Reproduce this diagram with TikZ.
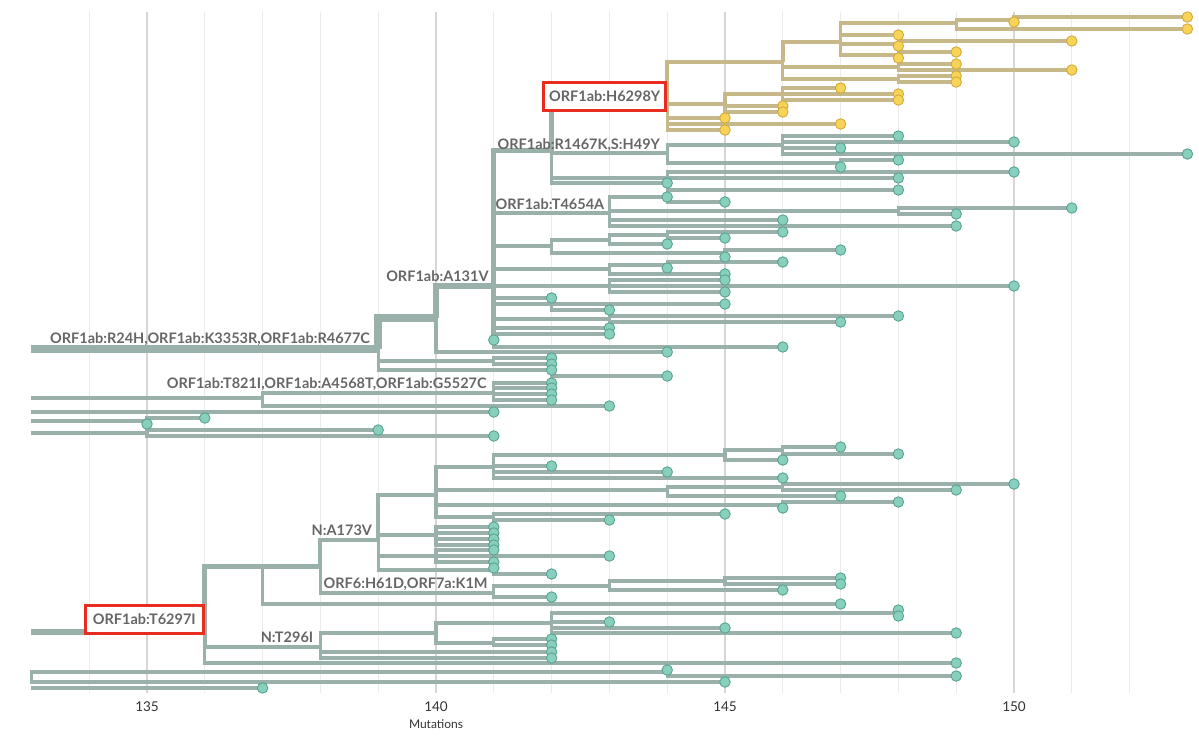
\documentclass[tikz,border=0pt]{standalone}
\usepackage{fontspec}
\newfontfamily\lato{Lato}
\definecolor{brgray}{RGB}{154,176,170}
\definecolor{tipfill}{RGB}{135,208,190}
\definecolor{tipedge}{RGB}{90,162,144}
\definecolor{brtan}{RGB}{198,184,136}
\definecolor{ytipfill}{RGB}{247,212,88}
\definecolor{ytipedge}{RGB}{210,170,60}
\definecolor{labgray}{RGB}{102,102,102}
\definecolor{boxred}{RGB}{232,44,32}
\pgfdeclarelayer{tips}
\pgfsetlayers{main,tips}
\tikzset{
  br/.style={draw=brgray, line width=3.1pt},
  br2/.style={line width=4pt},
  br3/.style={line width=5pt},
  br4/.style={line width=6.2pt},
  br5/.style={line width=8.5pt},
  tip/.style={circle, draw=tipedge, fill=tipfill, line width=0.9pt,
    minimum size=10.5pt, inner sep=0pt},
  gridmin/.style={draw=black!8, line width=1pt},
  gridmaj/.style={draw=black!16, line width=1.6pt},
  mut/.style={font=\lato\bfseries\fontsize{14.5}{17}\selectfont, text=labgray,
    inner sep=0pt, anchor=base east},
  hit/.style={mut, anchor=center, draw=boxred, line width=3pt, fill=white,
    minimum height=28pt},
  tick/.style={font=\lato\fontsize{13.5}{15}\selectfont, text=black!80},
  axis/.style={font=\lato\fontsize{12}{14}\selectfont, text=black!80}
}
% branch to an inner node, and branch to a tip
\newcommand\fork[4][]{\draw[br,#1] (#3) |- (#4) coordinate (#2);}
\newcounter{tipno}
\newcommand\leaf[3][]{\stepcounter{tipno}%
  \begin{pgfonlayer}{tips}\node[tip] (t\thetipno) at (#3) {};\end{pgfonlayer}%
  \draw[br,#1] (#2) |- (t\thetipno.center);}

\begin{document}
\begin{tikzpicture}[x=57.8pt, y=-1pt, shift={(-133,0)}]
\useasboundingbox (132.4567,0) rectangle (153.2007,737);

% axis
\foreach \m in {134,...,152}
  \draw[gridmin] (\m,12) -- (\m,693);
\foreach \m in {135,140,145,150} {
  \draw[gridmaj] (\m,12) -- (\m,693);
  \node[tick] (tick\m) at (\m,707) {\m};
}
\node[axis] (xlab) at (140,724) {Mutations};

% upper clade
\coordinate (rA) at (133,349);
\fork[br5]{n139}{rA}{139,349}
\fork[br5]{n140}{n139}{140,318}
\fork[br4]{nA}{n140}{141,286}
\leaf{n140}{144,352}
\fork{n141}{n139}{141,361}
\leaf{n141}{142,358} \leaf{n141}{142,364}
\fork{n142}{n139}{142,370}
\leaf{n142}{142,370} \leaf{n142}{144,376}

\fork[br3]{nB}{nA}{142,150}
\fork[br3]{yR}{nB}{144,104}
\fork[br2]{nR}{nB}{144,153}
\fork{nR1}{nR}{146,145}
\leaf{nR1}{148,136} \leaf{nR1}{150,142} \leaf{nR1}{147,148} \leaf{nR1}{153,154}
\fork{nR2}{nR}{147,163}
\leaf{nR2}{148,160} \leaf{nR2}{147,167}
\leaf{nB}{148,178}
\fork{nB2}{nB}{144,183}
\leaf{nB2}{150,172} \leaf{nB2}{144,183} \leaf{nB2}{148,190}

\fork[br2]{nT}{nA}{143,213}
\fork{nT1}{nT}{144,197}
\leaf{nT1}{144,197} \leaf{nT1}{145,202}
\fork{nT2}{nT}{148,211}
\leaf{nT2}{151,208} \leaf{nT2}{149,214}
\leaf{nT}{146,220} \leaf{nT}{149,226}

\fork{nC}{nA}{142,246}
\fork{nC1}{nC}{143,240}
\fork{nC11}{nC1}{144,235}
\leaf{nC11}{146,232} \leaf{nC11}{145,238}
\leaf{nC1}{144,244}
\fork{nC2}{nC}{145,253}
\leaf{nC2}{147,250} \leaf{nC2}{145,257}

\fork{nD}{nA}{143,269}
\fork{nD1}{nD}{144,265}
\leaf{nD1}{146,262} \leaf{nD1}{144,268}
\leaf{nD}{145,274}

\fork{nE}{nA}{143,286}
\leaf{nE}{145,280} \leaf{nE}{150,286} \leaf{nE}{145,292}
\fork{nF}{nA}{142,298}
\leaf{nF}{142,298} \leaf{nF}{143,310}
\leaf{nA}{145,304}
\fork{nG}{nA}{143,319}
\leaf{nG}{148,316} \leaf{nG}{147,322}
\leaf{nA}{143,328} \leaf{nA}{143,334}
\leaf[br3]{nA}{141,340} \leaf{nA}{146,347}

% yellow clade
\begin{scope}[br/.style={draw=brtan, line width=3.1pt},
  tip/.style={circle, draw=ytipedge, fill=ytipfill, line width=0.9pt,
    minimum size=10.5pt, inner sep=0pt}]
\fork[br2]{yA}{yR}{146,62}
\fork[br2]{yA1}{yA}{147,42}
\fork{yA11}{yA1}{149,23}
\fork{yA111}{yA11}{150,20}
\leaf{yA111}{153,17} \leaf{yA111}{150,22}
\leaf{yA11}{153,29}
\leaf{yA1}{148,35}
\fork{yA12}{yA1}{148,44}
\leaf{yA12}{151,41} \leaf{yA12}{148,46}
\fork{yA13}{yA1}{148,55}
\leaf{yA13}{149,52} \leaf{yA13}{148,58}
\fork{yA2}{yA}{148,67}
\leaf{yA2}{149,64} \leaf{yA2}{151,70}
\fork{yA3}{yA}{148,79}
\leaf{yA3}{149,76} \leaf{yA3}{149,82}
\fork{yB}{yR}{145,104}
\fork{yB1}{yB}{146,94}
\leaf{yB1}{147,88} \leaf{yB1}{148,94} \leaf{yB1}{148,100}
\leaf{yB}{146,106} \leaf{yB}{146,112}
\leaf{yR}{145,118} \leaf{yR}{147,124} \leaf{yR}{145,130}
\end{scope}

% middle left
\coordinate (rB) at (133,398);
\fork{nH}{rB}{137,398}
\fork{nH1}{nH}{141,393}
\leaf{nH1}{142,383} \leaf{nH1}{142,388} \leaf{nH1}{142,394} \leaf{nH1}{142,400}
\leaf{nH}{143,406}
\coordinate (rC) at (133,412);
\leaf{rC}{141,412}
\coordinate (rD) at (133,421);
\fork{nI}{rD}{135,421}
\leaf{nI}{136,418} \leaf{nI}{135,424}
\coordinate (rE) at (133,433);
\fork{nJ}{rE}{135,433}
\leaf{nJ}{139,430} \leaf{nJ}{141,436}

% lower clade
\coordinate (rF) at (133,632);
\fork[br4]{n136}{rF}{136,632}
\fork[br3]{n137}{n136}{137,566}
\fork[br3]{n138}{n137}{138,566}
\fork[br2]{n139b}{n138}{139,540}
\fork[br2]{nK}{n139b}{140,495}
\fork{nK1}{nK}{141,467}
\fork{nK11}{nK1}{145,455}
\fork{nK111}{nK11}{146,450}
\leaf{nK111}{147,447} \leaf{nK111}{148,454}
\leaf{nK11}{146,460}
\leaf{nK1}{142,466} \leaf{nK1}{144,472} \leaf{nK1}{146,478}
\fork{nK2}{nK}{144,490}
\fork{nK21}{nK2}{146,487}
\leaf{nK21}{150,484} \leaf{nK21}{149,490}
\leaf{nK2}{147,496}
\fork{nK3}{nK}{146,505}
\leaf{nK3}{148,502} \leaf{nK3}{146,508}
\fork{nK4}{nK}{141,517}
\leaf{nK4}{145,514} \leaf{nK4}{143,520}
\fork{nL}{n139b}{140,535}
\leaf{nL}{141,527} \leaf{nL}{141,533} \leaf{nL}{141,539} \leaf{nL}{141,545}
\fork{nM}{n139b}{140,556}
\leaf{nM}{141,550} \leaf{nM}{143,556} \leaf{nM}{141,562}
\fork{nN}{n139b}{141,570}
\leaf{nN}{141,568} \leaf{nN}{142,574}
\fork{nO}{n138}{141,593}
\fork{nO1}{nO}{143,586}
\fork{nO11}{nO1}{145,581}
\leaf{nO11}{147,578} \leaf{nO11}{147,584}
\leaf{nO1}{146,590}
\leaf{nO}{142,597}
\leaf{n137}{147,604}

\fork[br2]{n138b}{n136}{138,647}
\fork{nP}{n138b}{140,633}
\fork{nP1}{nP}{142,623}
\fork{nP11}{nP1}{148,613}
\leaf{nP11}{148,610} \leaf{nP11}{148,616}
\leaf{nP1}{143,622} \leaf{nP1}{145,628} \leaf{nP1}{149,633}
\fork{nP2}{nP}{141,643}
\leaf{nP2}{142,639} \leaf{nP2}{142,645}
\leaf{n138b}{142,652} \leaf{n138b}{142,658}
\leaf{n136}{149,663}

% bottom
\coordinate (nQ) at (133,677);
\fork{nQ1}{nQ}{144,672}
\leaf{nQ1}{144,670} \leaf{nQ1}{149,676}
\leaf{nQ}{145,682}
\coordinate (rH) at (133,688);
\leaf{rH}{137,688}

% mutations on branches
\node[mut] (labA) at ([xshift=-8pt,yshift=5.5pt]n139) {ORF1ab:R24H,ORF1ab:K3353R,ORF1ab:R4677C};
\node[mut] (labB) at ([xshift=-5pt,yshift=4.5pt]nA) {ORF1ab:A131V};
\node[mut] (labC) at ([xshift=-7pt,yshift=4pt]nR) {ORF1ab:R1467K,S:H49Y};
\node[mut] (labD) at ([xshift=-5pt,yshift=4pt]nT) {ORF1ab:T4654A};
\node[mut] (labE) at ([xshift=-7pt,yshift=5pt]nH1) {ORF1ab:T821I,ORF1ab:A4568T,ORF1ab:G5527C};
\node[mut] (labF) at ([xshift=-6pt,yshift=5pt]n139b) {N:A173V};
\node[mut] (labG) at ([xshift=-6pt,yshift=5pt]nO) {ORF6:H61D,ORF7a:K1M};
\node[mut] (labH) at ([xshift=-7pt,yshift=5pt]n138b) {N:T296I};
\node[hit, minimum width=122pt, anchor=south east] (boxA) at ([yshift=-8pt]yR) {ORF1ab:H6298Y};
\node[hit, minimum width=118pt, anchor=south east] (boxB) at ([yshift=-3pt]n136) {ORF1ab:T6297I};
\end{tikzpicture}
\end{document}
